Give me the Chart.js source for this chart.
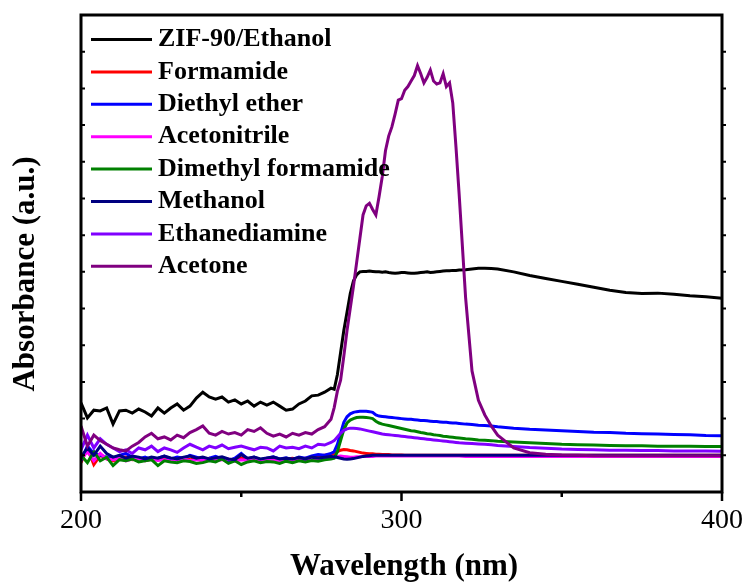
<!DOCTYPE html>
<html lang="en">
<head>
<meta charset="UTF-8">
<title>UV-Vis absorbance</title>
<script src="https://cdn.jsdelivr.net/npm/chart.js"></script>
<style>
  html, body { margin: 0; padding: 0; background: #fff; }
</style>
</head>
<body>
<canvas id="uvChart" width="749" height="587"></canvas>
<script>
// wavelength (nm), denser where the curves change fast
var wavelength = [
  200,202,204,206,208,210,212,214,216,218,220,222,224,226,228,230,232,234,236,238,
  240,242,244,246,248,250,252,254,256,258,260,262,264,266,268,270,272,274,276,278,
  279,280,281,282,283,284,285,286,287,288,289,290,291,292,293,294,295,296,297,298,
  299,300,301,302,303,304,305,306,307,308,309,310,311,312,313,314,315,316,317,318,
  320,322,324,326,328,330,335,340,345,350,355,360,365,370,375,380,385,390,395,400
];

var names = ["ZIF-90/Ethanol", "Formamide", "Diethyl ether", "Acetonitrile",
  "Dimethyl formamide", "Methanol", "Ethanediamine", "Acetone"];
var colors = ["#000000", "#ff0000", "#0000ff", "#ff00ff", "#008000", "#000080", "#8000ff", "#800080"];

var zif = [
  2.43,2.02,2.23,2.21,2.29,1.85,2.21,2.23,2.15,2.26,2.18,2.07,2.29,2.15,2.29,2.40,2.23,2.34,2.56,2.72,
  2.59,2.53,2.59,2.45,2.51,2.40,2.48,2.34,2.45,2.37,2.45,2.34,2.23,2.26,2.40,2.48,2.62,2.64,2.72,2.83,
  2.8,3.2,3.8,4.4,4.9,5.4,5.75,5.92,6.0,6.01,6.01,6.02,6.01,6.0,6.0,5.99,6.0,5.98,5.97,5.96,
  5.97,5.98,5.98,5.97,5.96,5.96,5.97,5.98,5.99,6.0,5.98,5.99,6.0,6.01,6.02,6.03,6.03,6.04,6.04,6.05,
  6.06,6.08,6.1,6.1,6.09,6.08,6.0,5.9,5.82,5.74,5.66,5.58,5.5,5.44,5.41,5.42,5.39,5.35,5.32,5.28
];
var formamide = [
  0.8,1.2,0.75,1.0,0.9,0.85,0.92,0.95,0.88,0.9,0.85,0.9,0.87,0.92,0.85,0.9,0.93,0.88,0.9,0.86,
  0.92,0.88,0.91,0.87,0.9,0.93,0.88,0.9,0.86,0.9,0.92,0.88,0.9,0.92,0.88,0.92,0.95,0.98,1.0,1.02,
  1.05,1.1,1.14,1.16,1.15,1.13,1.12,1.1,1.08,1.06,1.05,1.04,1.04,1.03,1.03,1.02,1.02,1.02,1.01,1.01,
  1.01,1.01,1.0,1.0,1.0,1.0,1.0,1.0,1.0,1.0,1.0,1.0,1.0,1.0,1.0,1.0,1.0,1.0,1.0,1.0,
  1.0,1.0,1.0,1.0,1.0,1.0,1.0,1.0,1.0,1.0,1.0,1.0,1.0,1.0,1.0,1.0,1.0,1.0,1.0,1.0
];
var diethylEther = [
  0.85,1.25,1.05,1.0,0.95,0.9,1.0,1.05,0.95,0.9,0.95,0.88,0.92,0.98,0.9,0.95,0.92,1.0,0.95,0.88,
  0.92,0.97,0.9,0.85,0.92,1.05,0.9,0.95,0.88,0.92,0.96,0.9,0.93,0.88,0.95,0.92,0.98,1.02,1.0,1.05,
  1.1,1.3,1.6,1.9,2.05,2.13,2.17,2.19,2.2,2.2,2.2,2.19,2.17,2.1,2.07,2.06,2.05,2.04,2.03,2.02,
  2.01,2.0,1.99,1.98,1.98,1.97,1.96,1.95,1.95,1.94,1.93,1.92,1.92,1.91,1.9,1.9,1.89,1.88,1.88,1.87,
  1.85,1.84,1.82,1.81,1.8,1.78,1.74,1.71,1.69,1.67,1.65,1.63,1.62,1.6,1.59,1.58,1.57,1.56,1.54,1.53
];
var acetonitrile = [
  0.9,1.1,0.85,1.05,0.9,0.88,0.92,0.85,0.9,0.88,0.85,0.9,0.86,0.88,0.84,0.88,0.9,0.85,0.88,0.86,
  0.9,0.85,0.88,0.9,0.84,0.88,0.86,0.9,0.85,0.88,0.86,0.84,0.87,0.85,0.88,0.86,0.9,0.88,0.92,0.94,
  0.95,0.97,0.98,0.97,0.96,0.95,0.95,0.96,0.96,0.97,0.97,0.97,0.97,0.98,0.98,0.98,0.98,0.98,0.98,0.98,
  0.98,0.98,0.98,0.98,0.98,0.98,0.98,0.98,0.98,0.98,0.98,0.98,0.98,0.98,0.98,0.98,0.98,0.98,0.98,0.98,
  0.97,0.97,0.97,0.97,0.97,0.97,0.97,0.97,0.97,0.97,0.97,0.97,0.97,0.97,0.97,0.97,0.97,0.97,0.97,0.97
];
var dmf = [
  1.0,0.8,1.1,0.85,0.95,0.72,0.88,0.85,0.9,0.82,0.85,0.88,0.72,0.85,0.82,0.8,0.85,0.83,0.78,0.8,
  0.85,0.82,0.9,0.78,0.85,0.75,0.82,0.85,0.8,0.83,0.82,0.78,0.84,0.8,0.85,0.82,0.86,0.84,0.88,0.9,
  0.92,1.1,1.4,1.7,1.88,1.96,2.0,2.03,2.04,2.04,2.03,2.02,2.0,1.93,1.88,1.85,1.83,1.81,1.79,1.77,
  1.75,1.73,1.71,1.69,1.67,1.66,1.64,1.62,1.61,1.59,1.58,1.56,1.55,1.54,1.52,1.51,1.5,1.49,1.48,1.47,
  1.45,1.44,1.42,1.41,1.4,1.38,1.36,1.34,1.32,1.3,1.29,1.28,1.27,1.26,1.26,1.25,1.25,1.25,1.24,1.24
];
var methanol = [
  0.95,1.2,1.0,1.25,1.05,0.95,1.0,0.92,0.98,0.95,0.9,0.95,0.92,0.98,0.93,0.9,0.95,0.98,0.92,0.95,
  0.9,0.93,0.96,0.9,0.88,1.02,0.92,0.95,0.9,0.93,0.95,0.9,0.92,0.9,0.94,0.9,0.95,0.93,0.95,0.97,
  0.96,0.94,0.92,0.9,0.89,0.9,0.91,0.93,0.95,0.97,0.98,0.99,1.0,1.0,1.0,1.0,1.0,1.0,1.0,1.0,
  1.0,1.0,1.0,1.0,1.0,1.0,1.0,1.0,1.0,1.0,1.0,1.0,1.0,1.0,1.0,1.0,1.0,1.0,1.0,1.0,
  1.0,1.0,1.0,1.0,1.0,1.0,1.0,1.0,1.0,1.0,1.0,1.0,1.0,1.0,1.0,1.0,1.0,1.0,1.0,1.0
];
var ethanediamine = [
  1.15,1.55,1.2,1.45,1.3,1.2,1.1,1.15,1.05,1.2,1.15,1.25,1.1,1.2,1.15,1.08,1.2,1.3,1.22,1.15,
  1.25,1.2,1.28,1.18,1.22,1.25,1.2,1.15,1.22,1.2,1.12,1.25,1.2,1.22,1.18,1.25,1.2,1.3,1.28,1.35,
  1.4,1.5,1.6,1.68,1.72,1.74,1.74,1.73,1.72,1.7,1.68,1.66,1.64,1.62,1.6,1.58,1.57,1.56,1.55,1.54,
  1.53,1.52,1.51,1.5,1.49,1.48,1.47,1.46,1.45,1.44,1.43,1.42,1.41,1.4,1.39,1.38,1.37,1.36,1.35,1.34,
  1.33,1.32,1.31,1.3,1.29,1.27,1.24,1.21,1.19,1.17,1.16,1.15,1.14,1.14,1.13,1.13,1.12,1.12,1.12,1.11
];
var acetone = [
  1.80,1.25,1.55,1.40,1.30,1.20,1.15,1.12,1.25,1.35,1.50,1.60,1.45,1.50,1.42,1.55,1.48,1.62,1.70,1.80,
  1.60,1.55,1.65,1.58,1.62,1.55,1.70,1.65,1.75,1.60,1.52,1.58,1.50,1.60,1.55,1.62,1.58,1.70,1.78,1.98,
  2.3,2.75,3.05,3.7,4.4,5.0,5.6,6.25,6.9,7.55,7.8,7.87,7.7,7.55,8.05,8.6,9.3,9.7,9.95,10.3,
  10.68,10.72,10.95,11.05,11.2,11.35,11.62,11.4,11.15,11.3,11.5,11.2,11.12,11.15,11.4,11.05,11.15,10.6,9.4,8.1,
  5.3,3.3,2.5,2.1,1.8,1.55,1.2,1.07,1.03,1.01,1.0,0.99,0.99,0.99,0.99,0.99,0.99,0.99,0.99,0.99
];

var series = [zif, formamide, diethylEther, acetonitrile, dmf, methanol, ethanediamine, acetone];
var xMajor = [200, 300, 400];
var xMinor = [250, 350];
var serif = '"Liberation Serif", "Times New Roman", serif';

var datasets = [];
for (var i = 0; i < series.length; i++) {
  datasets.push({
    label: names[i],
    data: wavelength.map(function (w, k) { return { x: w, y: series[i][k] }; }),
    borderColor: colors[i],
    borderWidth: 3,
    pointRadius: 0,
    tension: 0,
    fill: false,
    order: series.length - i  // later series on top, as in the original plot
  });
}

// frame, tick marks, legend and axis titles
var decorPlugin = {
  id: "decor",
  afterDraw: function (chart) {
    var ctx = chart.ctx;
    var a = chart.chartArea;
    var xs = chart.scales.x;
    var ys = chart.scales.y;
    ctx.save();
    ctx.strokeStyle = "#000";
    ctx.lineWidth = 3;
    ctx.strokeRect(a.left, a.top, a.right - a.left, a.bottom - a.top);

    ctx.lineWidth = 2.5;
    ctx.beginPath();
    xMajor.forEach(function (v) {
      var px = xs.getPixelForValue(v);
      ctx.moveTo(px, a.bottom); ctx.lineTo(px, a.bottom + 9);
    });
    xMinor.forEach(function (v) {
      var px = xs.getPixelForValue(v);
      ctx.moveTo(px, a.bottom); ctx.lineTo(px, a.bottom + 5);
    });
    ctx.stroke();

    ctx.lineWidth = 2;
    ctx.beginPath();
    for (var v = 1; v < 13; v++) {
      var py = ys.getPixelForValue(v);
      ctx.moveTo(a.left, py); ctx.lineTo(a.left + 4, py);
      ctx.moveTo(a.right, py); ctx.lineTo(a.right + 4, py);
    }
    ctx.stroke();

    // legend
    ctx.font = "bold 26px " + serif;
    ctx.textBaseline = "middle";
    ctx.textAlign = "left";
    for (var i = 0; i < names.length; i++) {
      var y = 39.5 + i * 32.4;
      ctx.strokeStyle = colors[i];
      ctx.lineWidth = 3;
      ctx.beginPath();
      ctx.moveTo(91, y); ctx.lineTo(152, y);
      ctx.stroke();
      ctx.fillStyle = "#000";
      ctx.fillText(names[i], 158, y);
    }

    // axis titles
    ctx.fillStyle = "#000";
    ctx.textAlign = "center";
    ctx.font = "bold 31px " + serif;
    ctx.fillText("Wavelength (nm)", 404, 567);
    ctx.translate(26, 274);
    ctx.rotate(-Math.PI / 2);
    ctx.font = "bold 31px " + serif;
    ctx.fillText("Absorbance (a.u.)", 0, 0);
    ctx.restore();
  }
};

new Chart(document.getElementById("uvChart"), {
  type: "line",
  data: { datasets: datasets },
  options: {
    responsive: false,
    animation: false,
    devicePixelRatio: 1,
    layout: { padding: { left: 0, right: 27, top: 15, bottom: 0 } },
    plugins: { legend: { display: false }, tooltip: { enabled: false } },
    scales: {
      x: {
        type: "linear",
        min: 200,
        max: 400,
        grid: { display: false, drawTicks: false },
        border: { display: false },
        ticks: {
          stepSize: 50,
          padding: 12,
          maxRotation: 0,
          color: "#000",
          font: { family: serif, size: 28 },
          callback: function (v) { return v % 100 === 0 ? String(v) : ""; }
        },
        afterFit: function (s) {
          s.height = 95;
          s.paddingLeft = 0;
          s.paddingRight = 0;
        }
      },
      y: {
        min: 0,
        max: 13,
        grid: { display: false, drawTicks: false },
        border: { display: false },
        ticks: { display: false, stepSize: 1 },
        afterFit: function (s) { s.width = 81; }
      }
    }
  },
  plugins: [decorPlugin]
});
</script>
</body>
</html>
